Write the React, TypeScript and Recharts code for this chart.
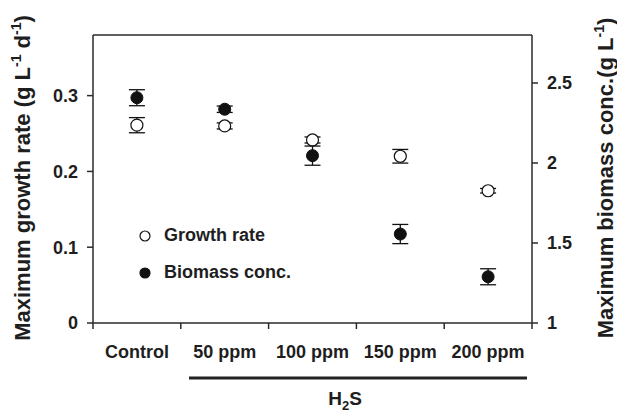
import { ComposedChart, ErrorBar, Legend, ReferenceLine, Scatter, XAxis, YAxis } from 'recharts';

const categories = ['Control', '50 ppm', '100 ppm', '150 ppm', '200 ppm'];
const growthRate = [0.261, 0.26, 0.2415, 0.22, 0.1745];
const growthRateErr = [0.01, 0.004, 0.004, 0.009, 0.003];
const biomass = [2.408, 2.336, 2.046, 1.556, 1.289];
const biomassErr = [0.05, 0.02, 0.06, 0.06, 0.05];
const leftTicks = [0, 0.1, 0.2, 0.3];
const rightTicks = [1, 1.5, 2, 2.5];
const leftMax = 0.38;

const data = categories.map((name, i) => ({
  name,
  growth: growthRate[i],
  growthErr: growthRateErr[i],
  biomass: biomass[i],
  biomassErr: biomassErr[i],
}));

const FONT = '"Liberation Sans", Arial, sans-serif';
const INK = '#1e1e1e';
const AXIS = '#2a2a2a';

const tickStyle = { fill: INK, fontSize: 18, fontWeight: 700, fontFamily: FONT };

// category axis: boundary tick marks between bands, label in the middle
function CategoryTick(props: any) {
  const { x, y, payload, index, visibleTicksCount } = props;
  const half = payload?.offset ?? 0;
  return (
    <g>
      <line x1={x - half} x2={x - half} y1={y} y2={y + 6} stroke={AXIS} strokeWidth={1.5} />
      {index === visibleTicksCount - 1 && (
        <line x1={x + half} x2={x + half} y1={y} y2={y + 6} stroke={AXIS} strokeWidth={1.5} />
      )}
      <text x={x} y={y + 35} textAnchor="middle" {...tickStyle}>
        {payload.value}
      </text>
    </g>
  );
}

function TreatmentLabel() {
  return (
    <g fontFamily={FONT} fontWeight={700} fill={INK}>
      <line x1={189} x2={527} y1={378} y2={378} stroke="#222" strokeWidth={3} />
      <text x={345} y={405} textAnchor="middle" fontSize={19}>
        H<tspan fontSize={13} dy={5}>2</tspan>
        <tspan dy={-5}>S</tspan>
      </text>
    </g>
  );
}

function LeftTitle() {
  return (
    <text
      x={30}
      y={178}
      transform="rotate(-90 30 178)"
      textAnchor="middle"
      fontSize={22}
      fontWeight={700}
      fontFamily={FONT}
      fill={INK}
    >
      Maximum growth rate (g L<tspan fontSize={14} dy={-9}>-1</tspan>
      <tspan dy={9}> d</tspan>
      <tspan fontSize={14} dy={-9}>-1</tspan>
      <tspan dy={9}>)</tspan>
    </text>
  );
}

function RightTitle() {
  return (
    <text
      x={613}
      y={178}
      transform="rotate(-90 613 178)"
      textAnchor="middle"
      fontSize={22}
      fontWeight={700}
      fontFamily={FONT}
      fill={INK}
    >
      Maximum biomass conc.(g L<tspan fontSize={14} dy={-9}>-1</tspan>
      <tspan dy={9}>)</tspan>
    </text>
  );
}

const seriesOrder = ['growth', 'biomass'];
const markerFill: Record<string, string> = { growth: '#ffffff', biomass: '#111111' };

function LegendContent({ payload }: any) {
  const items = (payload ?? [])
    .filter((e: any) => seriesOrder.includes(e.dataKey))
    .sort((a: any, b: any) => seriesOrder.indexOf(a.dataKey) - seriesOrder.indexOf(b.dataKey));
  return (
    <div style={{ fontFamily: FONT, fontWeight: 700, fontSize: 18, color: INK }}>
      {items.map((entry: any) => (
        <div key={entry.dataKey} style={{ display: 'flex', alignItems: 'center', height: 37 }}>
          <svg width={12} height={12} style={{ display: 'block' }}>
            <circle cx={6} cy={6} r={5} fill={markerFill[entry.dataKey]} stroke="#111" strokeWidth={1.2} />
          </svg>
          <span style={{ marginLeft: 13 }}>{entry.value}</span>
        </div>
      ))}
    </div>
  );
}

const openDot = (p: any) => <circle cx={p.cx} cy={p.cy} r={6} fill="#fff" stroke="#111" strokeWidth={1.2} />;
const filledDot = (p: any) => <circle cx={p.cx} cy={p.cy} r={6} fill="#111" stroke="#111" strokeWidth={1} />;

export default function App() {
  return (
    <div style={{ position: 'absolute', left: 0, top: 0, width: 617, height: 414, background: '#fff' }}>
      <ComposedChart width={617} height={414} data={data} margin={{ top: 35, right: 5, bottom: 0, left: 13 }}>
        <XAxis
          dataKey="name"
          type="category"
          scale="band"
          height={91}
          axisLine={{ stroke: AXIS, strokeWidth: 1.5 }}
          tickLine={false}
          tickSize={0}
          tickMargin={0}
          tick={<CategoryTick />}
          interval={0}
          label={{ content: () => <TreatmentLabel /> }}
        />
        <YAxis
          yAxisId="left"
          domain={[0, leftMax]}
          ticks={leftTicks}
          width={80}
          tick={tickStyle}
          tickSize={6}
          tickMargin={9}
          axisLine={{ stroke: AXIS, strokeWidth: 1.5 }}
          tickLine={{ stroke: AXIS, strokeWidth: 1.5 }}
          label={{ content: () => <LeftTitle /> }}
        />
        <YAxis
          yAxisId="right"
          orientation="right"
          domain={[1, 2.8]}
          ticks={rightTicks}
          width={80}
          tick={tickStyle}
          tickSize={6}
          tickMargin={9}
          axisLine={{ stroke: AXIS, strokeWidth: 1.5 }}
          tickLine={{ stroke: AXIS, strokeWidth: 1.5 }}
          label={{ content: () => <RightTitle /> }}
        />
        <ReferenceLine yAxisId="left" y={leftMax} stroke={AXIS} strokeWidth={1.5} />
        <Legend
          layout="horizontal"
          verticalAlign="middle"
          align="center"
          content={<LegendContent />}
          wrapperStyle={{ position: 'absolute', left: 139, top: 217, width: 'auto' }}
        />
        <Scatter name="Growth rate" dataKey="growth" yAxisId="left" shape={openDot} isAnimationActive={false}>
          <ErrorBar dataKey="growthErr" direction="y" width={8} stroke="#111" strokeWidth={1.3} />
        </Scatter>
        <Scatter name="Biomass conc." dataKey="biomass" yAxisId="right" shape={filledDot} isAnimationActive={false}>
          <ErrorBar dataKey="biomassErr" direction="y" width={8} stroke="#111" strokeWidth={1.3} />
        </Scatter>
      </ComposedChart>
    </div>
  );
}
